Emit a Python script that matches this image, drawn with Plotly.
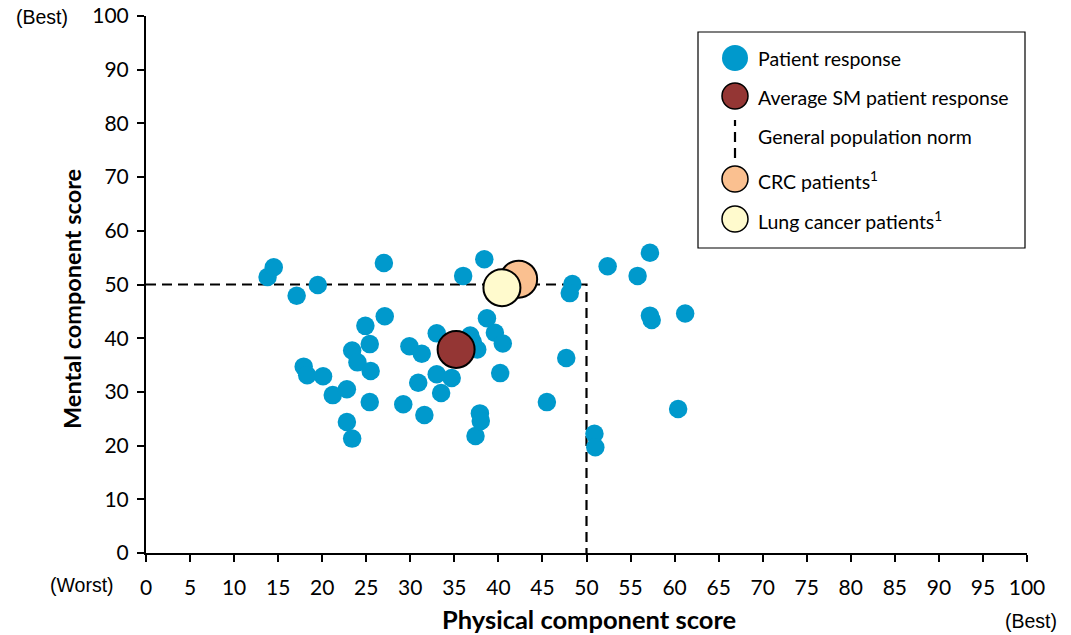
import plotly.graph_objects as go

# ---------------- data ----------------
patient_pcs = [13.8, 14.5, 17.1, 19.5, 17.9, 18.3, 20.1, 21.2, 22.8, 22.8, 23.4, 23.4,
               24.0, 24.9, 25.4, 25.5, 25.4, 27.0, 27.1, 29.2, 29.9, 30.9, 31.3, 31.6,
               33.0, 33.0, 33.5, 34.7, 36.0, 37.1, 37.6, 37.4, 37.9, 38.0, 38.4, 38.7,
               39.6, 40.5, 40.2, 45.5, 47.7, 48.4, 48.1, 50.9, 51.0, 52.4, 55.8, 57.2,
               57.2, 57.4, 61.2, 60.4, 36.8]
patient_mcs = [51.4, 53.2, 47.9, 49.9, 34.7, 33.1, 32.9, 29.4, 30.5, 24.4, 21.3, 37.7,
               35.5, 42.3, 38.9, 33.9, 28.1, 54.0, 44.1, 27.7, 38.5, 31.7, 37.1, 25.7,
               40.9, 33.3, 29.8, 32.6, 51.6, 39.3, 37.9, 21.8, 26.0, 24.6, 54.7, 43.7,
               41.0, 39.0, 33.5, 28.1, 36.3, 50.1, 48.4, 22.2, 19.7, 53.4, 51.6, 55.9,
               44.2, 43.4, 44.6, 26.8, 40.5]

avg_sm_pcs = [35.2]
avg_sm_mcs = [37.9]
crc_pcs = [42.3]
crc_mcs = [51.0]
lung_pcs = [40.4]
lung_mcs = [49.4]
norm_pcs = 50
norm_mcs = 50

x_ticks = list(range(0, 101, 5))
y_ticks = list(range(0, 101, 10))

legend_labels = ["Patient response", "Average SM patient response",
                 "General population norm", "CRC patients<sup>1</sup>",
                 "Lung cancer patients<sup>1</sup>"]

# ---------------- styles ----------------
BLUE = "#0099CC"
BROWN = "#943634"
ORANGE = "#FAC090"
YELLOW = "#FFFACD"
CAL = "Lato, 'Open Sans', sans-serif"
ARIAL = "'Liberation Sans', Arial, sans-serif"
DASH = "10px,6px"

W, H = 1071, 635
ML, MR, MT, MB = 146, 44, 16, 82
PW, PH = W - ML - MR, H - MT - MB


def px(x):
    return (x - ML) / PW


def py(y):
    return (H - MB - y) / PH


fig = go.Figure()

# general population norm
fig.add_trace(go.Scatter(
    x=[0, norm_pcs, norm_pcs], y=[norm_mcs, norm_mcs, 0], mode="lines",
    line=dict(color="black", width=2.2, dash=DASH), showlegend=False,
    hoverinfo="skip"))

fig.add_trace(go.Scatter(
    x=patient_pcs, y=patient_mcs, mode="markers",
    marker=dict(size=18.5, color=BLUE, line=dict(width=0)), showlegend=False))

fig.add_trace(go.Scatter(
    x=avg_sm_pcs, y=avg_sm_mcs, mode="markers",
    marker=dict(size=37, color=BROWN, line=dict(width=2, color="black")),
    showlegend=False))
fig.add_trace(go.Scatter(
    x=crc_pcs, y=crc_mcs, mode="markers",
    marker=dict(size=37, color=ORANGE, line=dict(width=2, color="black")),
    showlegend=False))
fig.add_trace(go.Scatter(
    x=lung_pcs, y=lung_mcs, mode="markers",
    marker=dict(size=37, color=YELLOW, line=dict(width=2, color="black")),
    showlegend=False))

fig.update_xaxes(range=[0, 100], tickvals=x_ticks, ticktext=[str(t) for t in x_ticks],
                 showgrid=False, zeroline=False, showline=True, linecolor="black",
                 linewidth=2, ticks="outside", ticklen=7, tickwidth=1.5, tickcolor="black",
                 ticklabelstandoff=8, automargin=False,
                 tickfont=dict(family=CAL, size=21, color="black"))
fig.update_yaxes(range=[0, 100], tickvals=y_ticks, ticktext=[str(t) for t in y_ticks],
                 showgrid=False, zeroline=False, showline=True, linecolor="black",
                 linewidth=2, ticks="outside", ticklen=7, tickwidth=1.5, tickcolor="black",
                 ticklabelstandoff=4, automargin=False,
                 tickfont=dict(family=CAL, size=21, color="black"))

shapes = []
annotations = []


def note(text, x, y, size, family, xanchor="center", angle=0):
    annotations.append(dict(text=text, x=px(x), y=py(y), xref="paper", yref="paper",
                            xanchor=xanchor, yanchor="middle", showarrow=False,
                            textangle=angle,
                            font=dict(family=family, size=size, color="black")))


# axis titles and extremes
note("<b>Physical component score</b>", 589, 619, 25.5, CAL)
note("<b>Mental component score</b>", 72, 299, 23.5, CAL, angle=-90)
note("(Worst)", 82, 585, 19.5, ARIAL)
note("(Best)", 1031, 621, 19.5, ARIAL)
note("(Best)", 42, 17, 19.5, ARIAL)

# legend box
shapes.append(dict(type="rect", xref="paper", yref="paper", x0=px(698), x1=px(1025),
                   y0=py(248), y1=py(32), line=dict(color="black", width=1.2),
                   fillcolor="white", layer="above"))
leg_y = [58, 96, 135, 179, 219]
leg_fill = [BLUE, BROWN, None, ORANGE, YELLOW]
for lab, yy, fc in zip(legend_labels, leg_y, leg_fill):
    if fc is None:
        shapes.append(dict(type="line", xref="paper", yref="paper", x0=px(735), x1=px(735),
                           y0=py(158), y1=py(120), line=dict(color="black", width=2.2, dash=DASH),
                           layer="above"))
    else:
        shapes.append(dict(type="circle", xref="paper", yref="paper",
                           xsizemode="pixel", ysizemode="pixel",
                           xanchor=px(735), yanchor=py(yy), x0=-13, x1=13, y0=-13, y1=13,
                           fillcolor=fc, layer="above",
                           line=dict(color="black" if fc != BLUE else BLUE,
                                     width=1.5 if fc != BLUE else 0)))
    note(lab, 756, yy + 1, 19.5, CAL, xanchor="left")

fig.update_layout(width=W, height=H, margin=dict(l=ML, r=MR, t=MT, b=MB, autoexpand=False),
                  paper_bgcolor="white", plot_bgcolor="white", showlegend=False,
                  shapes=shapes, annotations=annotations)

fig.write_html("out.html", config={"displayModeBar": False},
               post_script="document.body.style.margin='0';")
